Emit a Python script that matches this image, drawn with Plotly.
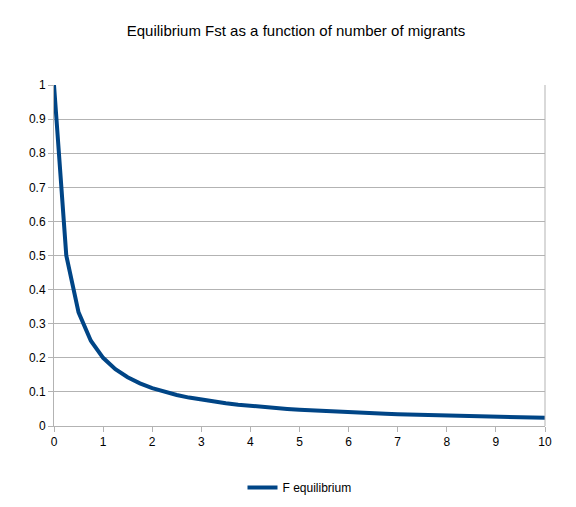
import plotly.graph_objects as go

# number of migrants (Nm), sampled every 0.25
migrants = [0, 0.25, 0.5, 0.75, 1, 1.25, 1.5, 1.75, 2, 2.25, 2.5, 2.75, 3, 3.25,
            3.5, 3.75, 4, 4.25, 4.5, 4.75, 5, 5.25, 5.5, 5.75, 6, 6.25, 6.5, 6.75,
            7, 7.25, 7.5, 7.75, 8, 8.25, 8.5, 8.75, 9, 9.25, 9.5, 9.75, 10]
f_equilibrium = [1, 0.5, 0.3333, 0.25, 0.2, 0.1667, 0.1429, 0.125, 0.1111, 0.1,
                 0.0909, 0.0833, 0.0769, 0.0714, 0.0667, 0.0625, 0.0588, 0.0556,
                 0.0526, 0.05, 0.0476, 0.0455, 0.0435, 0.0417, 0.04, 0.0385, 0.037,
                 0.0357, 0.0345, 0.0333, 0.0323, 0.0313, 0.0303, 0.0294, 0.0286,
                 0.0278, 0.027, 0.0263, 0.0256, 0.025, 0.0244]

fig = go.Figure()
fig.add_trace(go.Scatter(x=migrants, y=f_equilibrium, mode="lines", name="F equilibrium",
                         line=dict(color="#004586", width=4)))

fig.update_layout(
    width=576, height=507,
    margin=dict(l=46, r=39, t=77, b=89),
    paper_bgcolor="white", plot_bgcolor="white",
    font=dict(family="Liberation Sans, Arial, sans-serif", size=12, color="#000000"),
    title=dict(text="Equilibrium Fst as a function of number of migrants",
               x=0.5, xanchor="center", y=0.955, yanchor="middle",
               font=dict(size=15)),
    showlegend=True,
    legend=dict(orientation="h", x=0.5, xanchor="center", y=-0.18, yanchor="middle",
                font=dict(size=12)),
)
fig.update_xaxes(range=[0, 10], dtick=1, showgrid=False, showline=True,
                 linecolor="#b3b3b3", ticks="outside", ticklen=5, tickcolor="#b3b3b3",
                 mirror=False, zeroline=False)
fig.update_yaxes(range=[0, 1], dtick=0.1, showgrid=True, gridcolor="#b3b3b3",
                 showline=True, linecolor="#b3b3b3", ticks="outside", ticklen=5,
                 tickcolor="#b3b3b3", zeroline=False, tickformat="~g")
# right border of the plot area
fig.add_shape(type="line", xref="paper", yref="paper", x0=1, x1=1, y0=0, y1=1,
              line=dict(color="#b3b3b3", width=1))

fig.write_html("out.html")
